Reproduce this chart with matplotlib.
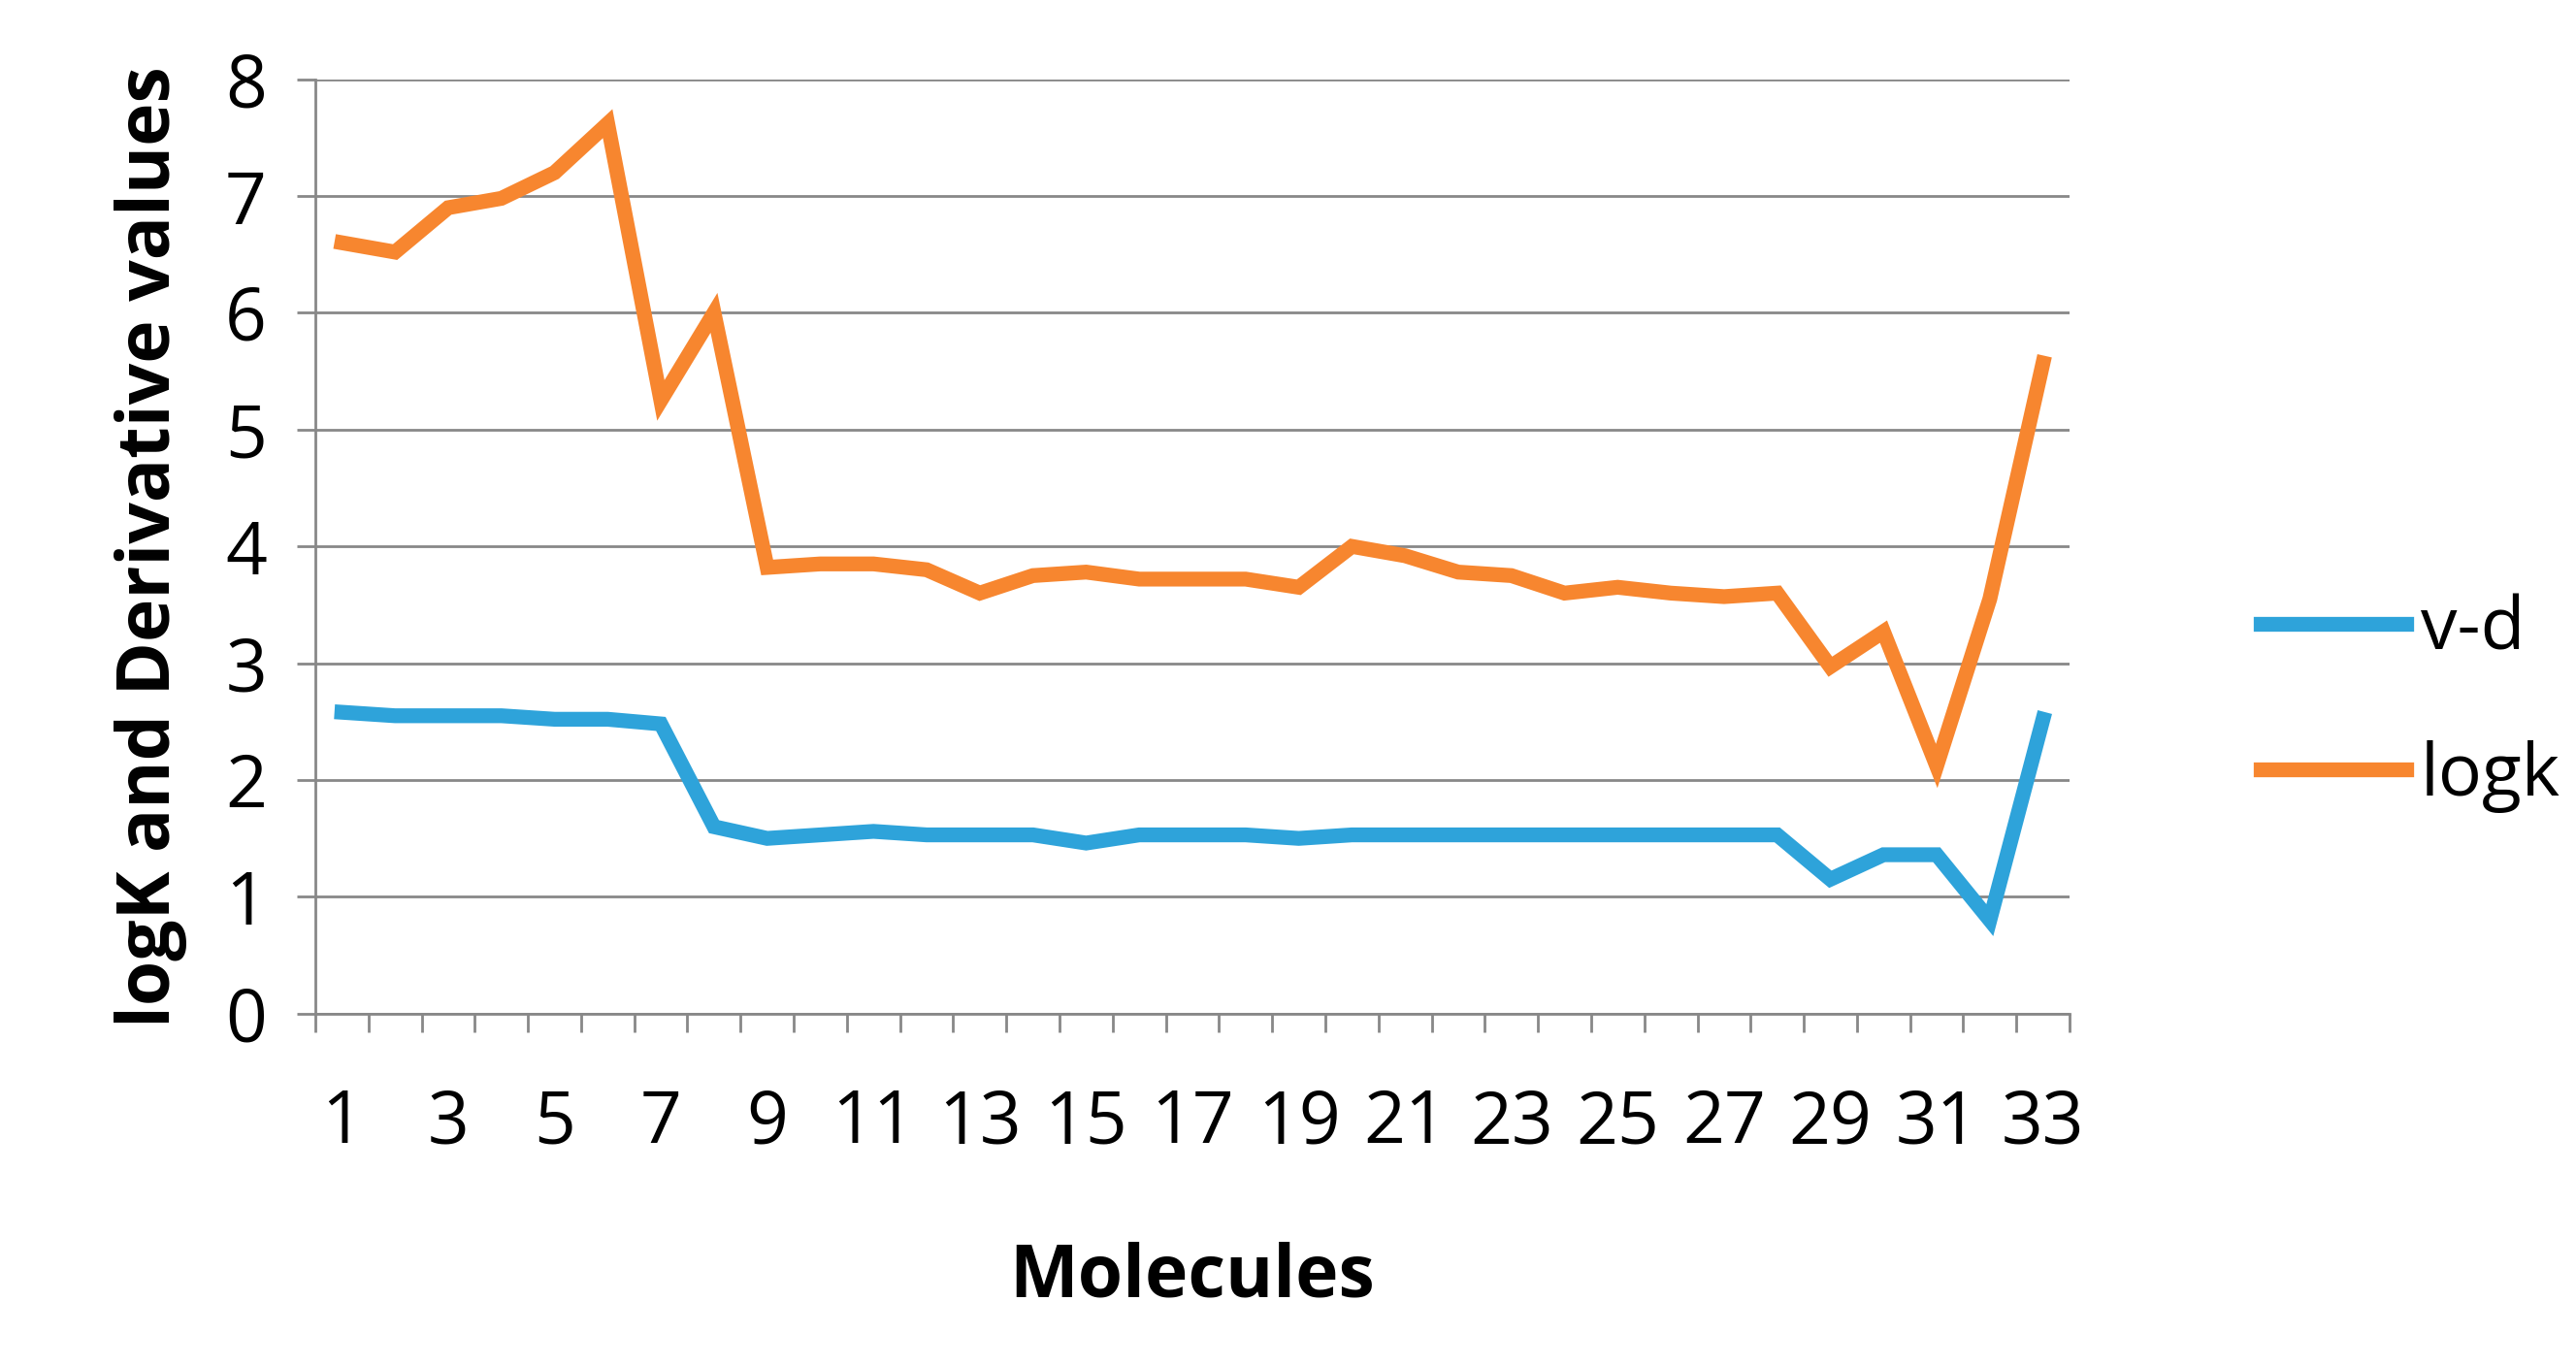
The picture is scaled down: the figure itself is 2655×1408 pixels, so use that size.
import matplotlib
matplotlib.use("Agg")
import matplotlib.pyplot as plt
import numpy as np

molecules = list(range(1, 34))
vd = [2.58, 2.55, 2.55, 2.55, 2.52, 2.52, 2.48, 1.6, 1.5, 1.53, 1.56, 1.53, 1.53, 1.53, 1.46,
      1.53, 1.53, 1.53, 1.5, 1.53, 1.53, 1.53, 1.53, 1.53, 1.53, 1.53, 1.53, 1.53, 1.15, 1.36,
      1.36, 0.8, 2.52]
logk = [6.6, 6.52, 6.9, 6.98, 7.2, 7.62, 5.25, 6.0, 3.82, 3.85, 3.85, 3.8, 3.6, 3.75, 3.78,
        3.72, 3.72, 3.72, 3.65, 4.0, 3.92, 3.78, 3.75, 3.6, 3.65, 3.6, 3.57, 3.6, 2.97, 3.27,
        2.12, 3.55, 5.57]

plt.rcParams['font.family'] = ['Open Sans', 'DejaVu Sans']
fig = plt.figure(figsize=(26.55, 14.08), dpi=100)
ax = fig.add_axes([0.1224, 0.258, 0.681, 0.684])
ax.plot(molecules, vd, color='#2EA3DA', lw=11, label='v-d', solid_joinstyle='miter')
ax.plot(molecules, logk, color='#F7862F', lw=11, label='logk', solid_joinstyle='miter')
ax.set_xlim(0.5, 33.5)
ax.set_ylim(0, 8)
ax.set_yticks(range(0, 9))
ax.set_xticks(molecules[::2])
ax.set_xticks(np.arange(0.5, 34, 1), minor=True)
ax.tick_params(axis='x', which='major', length=0, pad=55, labelsize=54)
ax.tick_params(axis='x', which='minor', length=14, width=2, color='#888888')
ax.tick_params(axis='y', length=14, width=2, color='#888888', labelsize=54, pad=22)
ax.grid(axis='y', color='#888888', lw=2)
for s in ['top', 'right']:
    ax.spines[s].set_visible(False)
for s in ['left', 'bottom']:
    ax.spines[s].set_color('#888888')
    ax.spines[s].set_linewidth(2)
ax.set_axisbelow(True)
ax.set_xlabel('Molecules', fontsize=54, fontweight='bold', labelpad=60)
ax.set_ylabel('logK and Derivative values', fontsize=54, fontweight='bold', labelpad=28)
fig.legend(loc='center left', bbox_to_anchor=(0.852, 0.485), frameon=False, fontsize=54,
           handlelength=2.0, labelspacing=1.0, handletextpad=0.2)
fig.savefig('out.png', dpi=100)
